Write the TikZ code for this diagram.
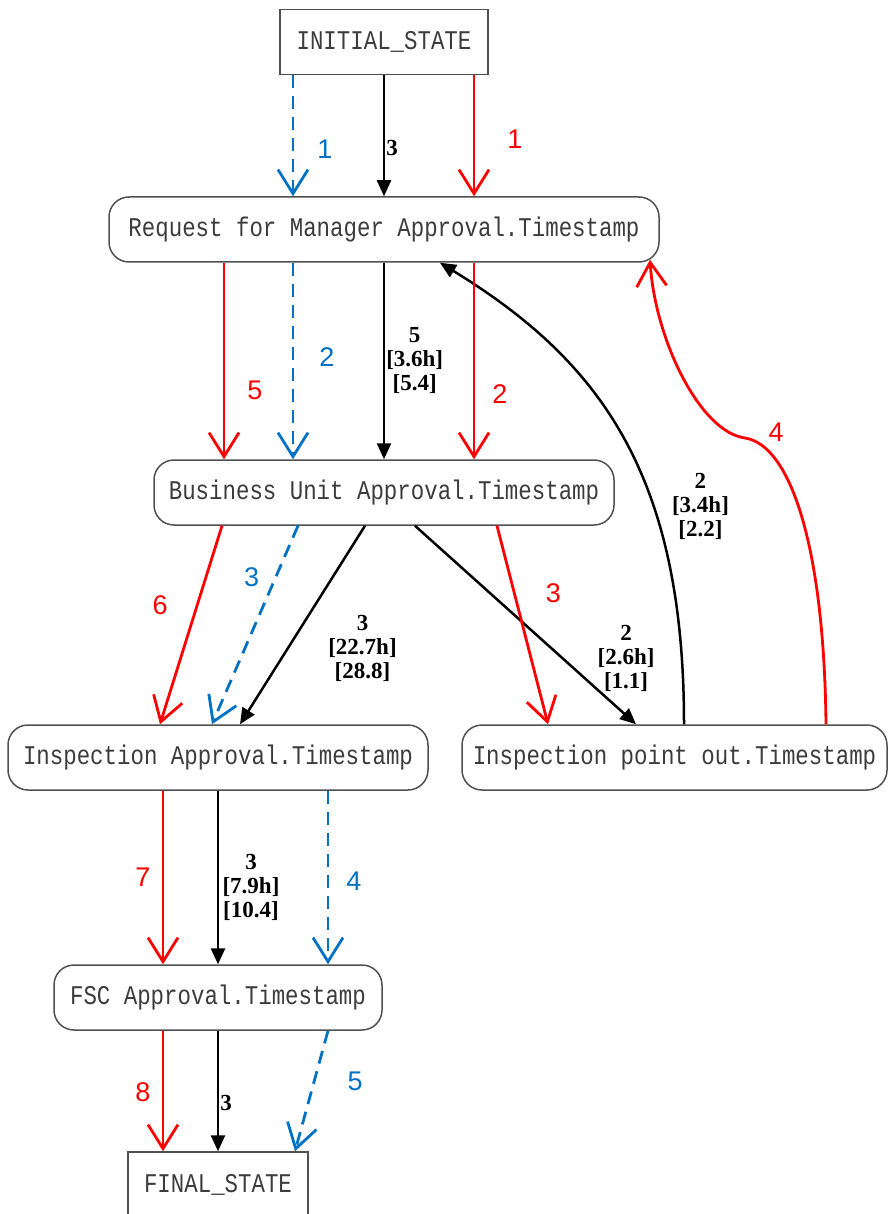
\documentclass[tikz,border=0pt]{standalone}
\usepackage{fontspec}
\newfontfamily\boxfont[FakeStretch=0.83]{Liberation Mono}
\newfontfamily\numfont{Liberation Sans}
\newfontfamily\statfont{Liberation Serif}
\usetikzlibrary{positioning,arrows.meta}
\definecolor{flowblue}{RGB}{0,114,198}
\definecolor{boxgray}{RGB}{80,80,80}
\definecolor{txtgray}{RGB}{60,60,60}

\begin{document}
\begin{tikzpicture}[
      x=1pt, y=-1pt,
      state/.style={rectangle, draw=boxgray, line width=1.5pt, minimum width=208pt, minimum height=65pt, inner sep=0pt, text=txtgray, font=\boxfont\fontsize{27}{30}\selectfont},
      activity/.style={state, rounded corners=20pt},
      line/.style={draw, line width=2.5pt, -{Triangle[length=16pt,width=14pt]}},
      redflow/.style={draw=red, line width=2.8pt, -{Straight Barb[length=24pt,width=30pt]}},
      blueflow/.style={redflow, draw=flowblue, dash pattern=on 13pt off 8pt},
      num/.style={font=\numfont\fontsize{27}{27}\selectfont, inner sep=0pt},
      stat/.style={font=\statfont\bfseries\fontsize{23}{24}\selectfont, align=center, inner sep=1pt}
  ]
      \useasboundingbox[fill=white] (0,0) rectangle (889,1214);

      % Nodes - states and activities of the log
      \node (init) [state] at (384,42) {INITIAL\_STATE};
      \node (req) [activity, minimum width=550pt] at (384,229.5) {Request for Manager Approval.Timestamp};
      \node (bu) [activity, minimum width=460pt] at (384,492.5) {Business Unit Approval.Timestamp};
      \node (ia) [activity, minimum width=420pt] at (218,757.5) {Inspection Approval.Timestamp};
      \node (ipo) [activity, minimum width=425pt] at (674.5,757.5) {Inspection point out.Timestamp};
      \node (fsc) [activity, minimum width=328pt] at (218,997.5) {FSC Approval.Timestamp};
      \node (fin) [state, minimum width=180pt] at (218,1184.5) {FINAL\_STATE};

      % Frequency arcs (black)
      \path [line] (init) -- node[stat, pos=.6, right] {3} (req);
      \path [line] (req) -- node[stat, pos=.5, right] {5\\{[3.6h]}\\{[5.4]}} (bu);
      \path [line] ([xshift=-19pt]bu.south) -- node[stat, pos=.62, xshift=75pt] {3\\{[22.7h]}\\{[28.8]}} ([xshift=22pt]ia.north);
      \path [line] ([xshift=31pt]bu.south) -- node[stat, pos=.67, xshift=63pt] {2\\{[2.6h]}\\{[1.1]}} ([xshift=-38.5pt]ipo.north);
      \path [line] ([xshift=9.5pt]ipo.north) .. controls +(0,-250) and +(160,98) .. ([xshift=56pt]req.south)
            node[stat, pos=.35, xshift=47pt] {2\\{[3.4h]}\\{[2.2]}};
      \path [line] (ia) -- node[stat, pos=.56, xshift=33pt] {3\\{[7.9h]}\\{[10.4]}} (fsc);
      \path [line] (fsc) -- node[stat, pos=.6, right] {3} (fin);

      % Red case
      \path [redflow] ([xshift=90pt]init.south) -- node[num, text=red, pos=.53, xshift=41pt] {1} ([xshift=90pt]req.north);
      \path [redflow] ([xshift=90pt]req.south) -- node[num, text=red, pos=.67, xshift=26pt] {2} ([xshift=90pt]bu.north);
      \path [redflow] ([xshift=113pt]bu.south) -- node[num, text=red, pos=.34, xshift=39pt] {3} ([xshift=-126.5pt]ipo.north);
      \path [redflow] ([xshift=151.5pt]ipo.north) .. controls +(-2,-180) and +(45,7) .. (745,438)
            node[num, text=red, pos=1, xshift=31pt, yshift=6pt] {4}
            .. controls +(-45,-6) and +(5,80) .. ([xshift=266pt,yshift=3pt]req.south);
      \path [redflow] ([xshift=-160pt]req.south) -- node[num, text=red, pos=.65, xshift=31pt] {5} ([xshift=-160pt]bu.north);
      \path [redflow] ([xshift=-162pt]bu.south) -- node[num, text=red, pos=.4, xshift=-37pt] {6} ([xshift=-58pt]ia.north);
      \path [redflow] ([xshift=-55pt]ia.south) -- node[num, text=red, pos=.5, xshift=-20pt] {7} ([xshift=-55pt]fsc.north);
      \path [redflow] ([xshift=-55pt]fsc.south) -- node[num, text=red, pos=.51, xshift=-20pt] {8} ([xshift=-55pt]fin.north);

      % Blue case
      \path [blueflow] ([xshift=-91pt]init.south) -- node[num, text=flowblue, pos=.61, xshift=32pt] {1} ([xshift=-91pt]req.north);
      \path [blueflow] ([xshift=-91pt]req.south) -- node[num, text=flowblue, pos=.48, xshift=34pt] {2} ([xshift=-91pt]bu.north);
      \path [blueflow] ([xshift=-86pt]bu.south) -- node[num, text=flowblue, pos=.26, xshift=-24pt] {3} ([xshift=-6pt]ia.north);
      \path [blueflow] ([xshift=110pt]ia.south) -- node[num, text=flowblue, pos=.52, xshift=26pt] {4} ([xshift=110pt]fsc.north);
      \path [blueflow] ([xshift=110pt]fsc.south) -- node[num, text=flowblue, pos=.42, xshift=41pt] {5} ([xshift=77pt]fin.north);
  \end{tikzpicture}
\end{document}
